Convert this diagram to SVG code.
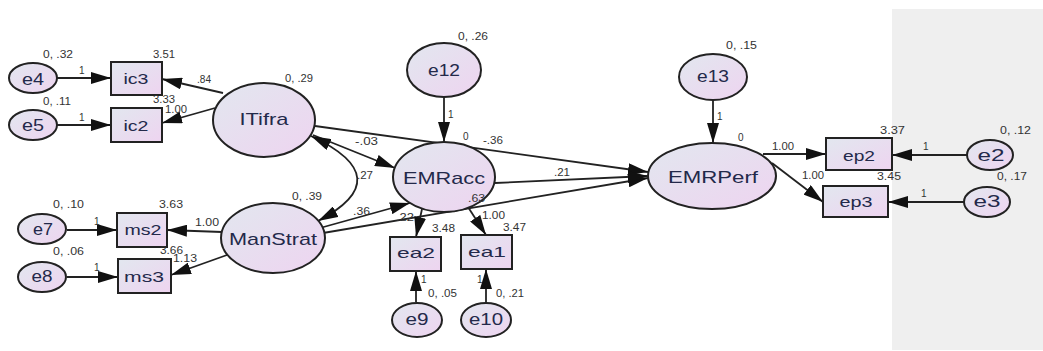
<svg xmlns="http://www.w3.org/2000/svg" width="1043" height="351" viewBox="0 0 1043 351">
<style>
.n{stroke:#222;stroke-width:2;fill:url(#g)}
.c{stroke:#222;stroke-width:1.8;fill:none;marker-end:url(#a)}
.t{font-family:"Liberation Sans",Arial,sans-serif;font-size:17px;fill:#23294a;text-anchor:middle}
.r{font-size:15px}
.s{font-family:"Liberation Sans",Arial,sans-serif;font-size:10px;fill:#333}
</style>
<defs>
<linearGradient id="g" x1="0" y1="0" x2="1" y2="1">
<stop offset="0" stop-color="#e2e7ef"/>
<stop offset="1" stop-color="#eed4f0"/>
</linearGradient>
<marker id="a" markerUnits="userSpaceOnUse" markerWidth="20" markerHeight="12" refX="20" refY="6" orient="auto-start-reverse" viewBox="0 0 20 12">
<path d="M0,0 L20,6 L0,12 z" fill="#111"/>
</marker>
</defs>
<rect x="892" y="9" width="151" height="341" fill="#efefef"/>
<g id="connectors">
<path class="c" d="M57,78 L111,78"/>
<path class="c" d="M57,125 L111,125"/>
<path class="c" d="M223,93 L162,79"/>
<path class="c" d="M215,108 L162,123"/>
<path class="c" d="M67,230 L117,230"/>
<path class="c" d="M67,277 L118,277"/>
<path class="c" d="M222,232 L167,230"/>
<path class="c" d="M227,255 L171,275"/>
<path class="c" d="M313,135 L395,168"/>
<path class="c" d="M315,126 L648,172"/>
<path class="c" d="M320,228 L410,203"/>
<path class="c" d="M323,233 L648,178"/>
<path class="c" d="M495,183 L648,176"/>
<path class="c" d="M444,97 L444,142"/>
<path class="c" d="M422,209 L416,237"/>
<path class="c" d="M468,207 L486,235"/>
<path class="c" d="M416,302 L416,271"/>
<path class="c" d="M486,302 L486,269"/>
<path class="c" d="M713,100 L713,143"/>
<path class="c" d="M763,154 L826,154"/>
<path class="c" d="M772,163 L823,202"/>
<path class="c" d="M968,155 L892,155"/>
<path class="c" d="M964,202 L888,202"/>
<path class="c" d="M311,136 Q400,178 318,221" marker-start="url(#a)"/>
</g>
<g id="e4"><ellipse class="n" cx="33" cy="78" rx="24" ry="15"/><text class="t" x="33" y="85" textLength="22" lengthAdjust="spacingAndGlyphs">e4</text></g>
<g id="e5"><ellipse class="n" cx="33" cy="125" rx="24" ry="15"/><text class="t" x="33" y="131" textLength="22" lengthAdjust="spacingAndGlyphs">e5</text></g>
<g id="ic3"><rect class="n" x="111" y="62" width="51" height="33"/><text class="t r" x="136" y="84" textLength="25" lengthAdjust="spacingAndGlyphs">ic3</text></g>
<g id="ic2"><rect class="n" x="111" y="108" width="51" height="34"/><text class="t r" x="136" y="131" textLength="25" lengthAdjust="spacingAndGlyphs">ic2</text></g>
<g id="ITifra"><ellipse class="n" cx="264" cy="120" rx="51" ry="37"/><text class="t" x="264" y="125" textLength="49" lengthAdjust="spacingAndGlyphs">ITifra</text></g>
<g id="e7"><ellipse class="n" cx="42" cy="229" rx="24" ry="15"/><text class="t" x="43" y="235" textLength="20" lengthAdjust="spacingAndGlyphs">e7</text></g>
<g id="e8"><ellipse class="n" cx="42" cy="277" rx="24" ry="15"/><text class="t" x="42" y="282" textLength="21" lengthAdjust="spacingAndGlyphs">e8</text></g>
<g id="ms2"><rect class="n" x="117" y="213" width="50" height="34"/><text class="t r" x="143" y="235" textLength="37" lengthAdjust="spacingAndGlyphs">ms2</text></g>
<g id="ms3"><rect class="n" x="118" y="259" width="53" height="34"/><text class="t r" x="144" y="282" textLength="40" lengthAdjust="spacingAndGlyphs">ms3</text></g>
<g id="ManStrat"><ellipse class="n" cx="273" cy="238" rx="52" ry="35"/><text class="t" x="273" y="245" textLength="88" lengthAdjust="spacingAndGlyphs">ManStrat</text></g>
<g id="e12"><ellipse class="n" cx="444" cy="70" rx="37" ry="27"/><text class="t" x="444" y="76" textLength="32" lengthAdjust="spacingAndGlyphs">e12</text></g>
<g id="EMRacc"><ellipse class="n" cx="444" cy="177" rx="51" ry="35"/><text class="t" x="444" y="184" textLength="82" lengthAdjust="spacingAndGlyphs">EMRacc</text></g>
<g id="ea2"><rect class="n" x="390" y="237" width="51" height="34"/><text class="t r" x="416" y="258" textLength="38" lengthAdjust="spacingAndGlyphs">ea2</text></g>
<g id="ea1"><rect class="n" x="461" y="235" width="51" height="34"/><text class="t r" x="487" y="257" textLength="38" lengthAdjust="spacingAndGlyphs">ea1</text></g>
<g id="e9"><ellipse class="n" cx="417" cy="320" rx="25" ry="17"/><text class="t" x="417" y="325" textLength="23" lengthAdjust="spacingAndGlyphs">e9</text></g>
<g id="e10"><ellipse class="n" cx="486" cy="320" rx="25" ry="17"/><text class="t" x="486" y="325" textLength="34" lengthAdjust="spacingAndGlyphs">e10</text></g>
<g id="e13"><ellipse class="n" cx="713" cy="77" rx="34" ry="23"/><text class="t" x="713" y="82" textLength="32" lengthAdjust="spacingAndGlyphs">e13</text></g>
<g id="EMRPerf"><ellipse class="n" cx="712" cy="176" rx="64" ry="33"/><text class="t" x="713" y="183" textLength="90" lengthAdjust="spacingAndGlyphs">EMRPerf</text></g>
<g id="ep2"><rect class="n" x="826" y="138" width="66" height="32"/><text class="t r" x="859" y="161" textLength="32" lengthAdjust="spacingAndGlyphs">ep2</text></g>
<g id="ep3"><rect class="n" x="823" y="186" width="65" height="31"/><text class="t r" x="856" y="207" textLength="33" lengthAdjust="spacingAndGlyphs">ep3</text></g>
<g id="e2"><ellipse class="n" cx="990" cy="155" rx="23" ry="15"/><text class="t" x="991" y="161" textLength="27" lengthAdjust="spacingAndGlyphs">e2</text></g>
<g id="e3"><ellipse class="n" cx="987" cy="202" rx="23" ry="15"/><text class="t" x="987" y="207" textLength="27" lengthAdjust="spacingAndGlyphs">e3</text></g>
<g id="labels">
<text class="s" x="43" y="58" textLength="30" lengthAdjust="spacingAndGlyphs">0, .32</text>
<text class="s" x="153" y="58" textLength="22" lengthAdjust="spacingAndGlyphs">3.51</text>
<text class="s" x="79" y="74">1</text>
<text class="s" x="197" y="83" textLength="14" lengthAdjust="spacingAndGlyphs">.84</text>
<text class="s" x="285" y="82" textLength="28" lengthAdjust="spacingAndGlyphs">0, .29</text>
<text class="s" x="43" y="105" textLength="28" lengthAdjust="spacingAndGlyphs">0, .11</text>
<text class="s" x="153" y="103" textLength="22" lengthAdjust="spacingAndGlyphs">3.33</text>
<text class="s" x="165" y="113" textLength="22" lengthAdjust="spacingAndGlyphs">1.00</text>
<text class="s" x="79" y="121">1</text>
<text class="s" x="53" y="208" textLength="31" lengthAdjust="spacingAndGlyphs">0, .10</text>
<text class="s" x="159" y="208" textLength="24" lengthAdjust="spacingAndGlyphs">3.63</text>
<text class="s" x="94" y="225">1</text>
<text class="s" x="195" y="226" textLength="24" lengthAdjust="spacingAndGlyphs">1.00</text>
<text class="s" x="292" y="200" textLength="30" lengthAdjust="spacingAndGlyphs">0, .39</text>
<text class="s" x="53" y="255" textLength="31" lengthAdjust="spacingAndGlyphs">0, .06</text>
<text class="s" x="160" y="254" textLength="23" lengthAdjust="spacingAndGlyphs">3.66</text>
<text class="s" x="173" y="262" textLength="24" lengthAdjust="spacingAndGlyphs">1.13</text>
<text class="s" x="94" y="271">1</text>
<text class="s" x="458" y="40" textLength="30" lengthAdjust="spacingAndGlyphs">0, .26</text>
<text class="s" x="448" y="118">1</text>
<text class="s" x="463" y="140">0</text>
<text class="s" x="483" y="144" textLength="20" lengthAdjust="spacingAndGlyphs">-.36</text>
<text class="s" x="355" y="145" textLength="23" lengthAdjust="spacingAndGlyphs">-.03</text>
<text class="s" x="357" y="179" textLength="16" lengthAdjust="spacingAndGlyphs">.27</text>
<text class="s" x="353" y="215" textLength="17" lengthAdjust="spacingAndGlyphs">.36</text>
<text class="s" x="554" y="176" textLength="16" lengthAdjust="spacingAndGlyphs">.21</text>
<text class="s" x="468" y="202" textLength="17" lengthAdjust="spacingAndGlyphs">.63</text>
<text class="s" x="482" y="219" textLength="23" lengthAdjust="spacingAndGlyphs">1.00</text>
<text class="s" x="396" y="221" textLength="18" lengthAdjust="spacingAndGlyphs">.22</text>
<text class="s" x="432" y="232" textLength="23" lengthAdjust="spacingAndGlyphs">3.48</text>
<text class="s" x="503" y="231" textLength="23" lengthAdjust="spacingAndGlyphs">3.47</text>
<text class="s" x="421" y="283">1</text>
<text class="s" x="428" y="297" textLength="29" lengthAdjust="spacingAndGlyphs">0, .05</text>
<text class="s" x="477" y="283">1</text>
<text class="s" x="496" y="297" textLength="28" lengthAdjust="spacingAndGlyphs">0, .21</text>
<text class="s" x="726" y="49" textLength="31" lengthAdjust="spacingAndGlyphs">0, .15</text>
<text class="s" x="717" y="120">1</text>
<text class="s" x="738" y="141">0</text>
<text class="s" x="772" y="150" textLength="22" lengthAdjust="spacingAndGlyphs">1.00</text>
<text class="s" x="802" y="179" textLength="22" lengthAdjust="spacingAndGlyphs">1.00</text>
<text class="s" x="880" y="134" textLength="25" lengthAdjust="spacingAndGlyphs">3.37</text>
<text class="s" x="877" y="180" textLength="24" lengthAdjust="spacingAndGlyphs">3.45</text>
<text class="s" x="1000" y="134" textLength="31" lengthAdjust="spacingAndGlyphs">0, .12</text>
<text class="s" x="997" y="180" textLength="30" lengthAdjust="spacingAndGlyphs">0, .17</text>
<text class="s" x="923" y="150">1</text>
<text class="s" x="921" y="197">1</text>
</g>
</svg>
